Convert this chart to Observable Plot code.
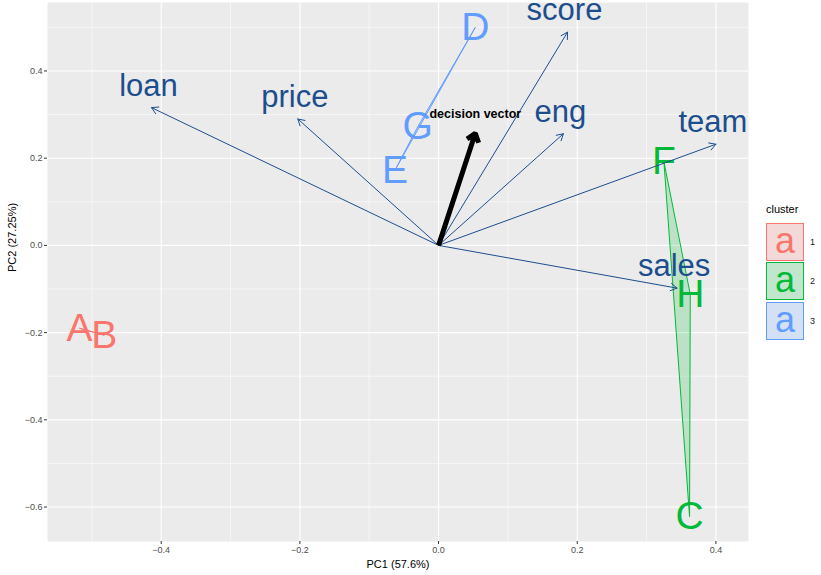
<!DOCTYPE html>
<html>
<head>
<meta charset="utf-8">
<script src="https://cdn.jsdelivr.net/npm/d3@7"></script>
<script src="https://cdn.jsdelivr.net/npm/@observablehq/plot@0.6"></script>
<style>
  body { margin: 0; background: #ffffff; font-family: "Liberation Sans", Arial, Helvetica, sans-serif; }
  #wrap { position: relative; width: 821px; height: 575px; }
  #legend { position: absolute; left: 766px; top: 203px; color: #000; }
  #legend .title { font-size: 11px; height: 19px; line-height: 13px; }
  #legend .row { display: flex; align-items: center; height: 39.5px; }
  #legend .key { position: relative; width: 38px; height: 38px; box-sizing: border-box; background: #f2f2f2; }
  #legend .key .tint { position: absolute; inset: 0; }
  #legend .key span { position: absolute; left: 0; right: 0; top: -2px; height: 38px; text-align: center; font-size: 36px; line-height: 38px; }
  #legend .lab { font-size: 9px; margin-left: 6px; color: #1a1a1a; }
</style>
</head>
<body>
<div id="wrap"></div>
<script>
// Individuals (scores on PC1 / PC2) and their cluster
const names    = ["A", "B", "C", "D", "E", "F", "G", "H"];
const pc1      = [-0.518, -0.482, 0.362, 0.053, -0.063, 0.325, -0.030, 0.363];
const pc2      = [-0.190, -0.206, -0.622, 0.500, 0.172, 0.192, 0.272, -0.112];
const clusters = ["1", "1", "2", "3", "3", "2", "3", "2"];

// Variable loadings
const variables = ["loan", "price", "score", "eng", "team", "sales"];
const loadPC1   = [-0.414, -0.203, 0.186, 0.180, 0.400, 0.344];
const loadPC2   = [0.316, 0.290, 0.489, 0.256, 0.232, -0.098];

// Decision vector
const decisionLabel = ["decision vector"];
const decisionPC1 = [0.053];
const decisionPC2 = [0.257];

// Axis ticks and titles
const majorTicksX = [-0.4, -0.2, 0.0, 0.2, 0.4];
const minorTicksX = [-0.5, -0.3, -0.1, 0.1, 0.3];
const majorTicksY = [-0.6, -0.4, -0.2, 0.0, 0.2, 0.4];
const minorTicksY = [-0.5, -0.3, -0.1, 0.1, 0.3, 0.5];
const xTitle = "PC1 (57.6%)";
const yTitle = "PC2 (27.25%)";

const clusterLevels = ["1", "2", "3"];
const clusterColors = ["#F8766D", "#00BA38", "#619CFF"];
const varColor = "#1C4E8E";
const font = "'Liberation Sans', Arial, Helvetica, sans-serif";

const inds = names.map((n, i) => ({name: n, pc1: pc1[i], pc2: pc2[i], cluster: clusters[i]}));
const vars = variables.map((v, i) => ({name: v, pc1: loadPC1[i], pc2: loadPC2[i]}));
const decision = decisionLabel.map((d, i) => ({name: d, pc1: decisionPC1[i], pc2: decisionPC2[i]}));

const chart = Plot.plot({
  width: 821,
  height: 575,
  marginLeft: 47,
  marginRight: 73,
  marginTop: 2,
  marginBottom: 34,
  style: {fontFamily: font, background: "#ffffff"},
  x: {domain: [-0.564, 0.447]},
  y: {domain: [-0.679, 0.557]},
  color: {type: "ordinal", domain: clusterLevels, range: clusterColors},
  marks: [
    Plot.frame({fill: "#EBEBEB", stroke: null}),
    Plot.gridX(minorTicksX, {stroke: "#ffffff", strokeOpacity: 1, strokeWidth: 0.55}),
    Plot.gridY(minorTicksY, {stroke: "#ffffff", strokeOpacity: 1, strokeWidth: 0.55}),
    Plot.gridX(majorTicksX, {stroke: "#ffffff", strokeOpacity: 1, strokeWidth: 1.1}),
    Plot.gridY(majorTicksY, {stroke: "#ffffff", strokeOpacity: 1, strokeWidth: 1.1}),
    Plot.axisX(majorTicksX, {tickFormat: d3.format(".1f"), tickSize: 3, tickPadding: 2, fontSize: 9, color: "#4D4D4D", stroke: "#333333", label: null}),
    Plot.axisY(majorTicksY, {tickFormat: d3.format(".1f"), tickSize: 3, tickPadding: 2, fontSize: 9, color: "#4D4D4D", stroke: "#333333", label: null}),
    Plot.text([xTitle], {frameAnchor: "bottom", dy: 23, fontSize: 11, fill: "#000", lineAnchor: "middle"}),
    Plot.text([yTitle], {frameAnchor: "left", dx: -35, rotate: -90, fontSize: 11, fill: "#000", lineAnchor: "middle"}),
    // individuals
    Plot.text(inds, {x: "pc1", y: "pc2", text: "name", fill: "cluster", fontSize: 39, lineAnchor: "middle"}),
    Plot.hull(inds, {x: "pc1", y: "pc2", z: "cluster", fill: "cluster", stroke: "cluster", fillOpacity: 0.2, strokeWidth: 1}),
    // variables
    Plot.arrow(vars, {x1: () => 0, y1: () => 0, x2: "pc1", y2: "pc2", stroke: varColor, strokeWidth: 1, headLength: 11, headAngle: 60}),
    Plot.text(vars, {x: "pc1", y: "pc2", text: "name", fill: varColor, fontSize: 31, dx: -3, dy: -22, lineAnchor: "middle"}),
    // decision vector
    Plot.arrow(decision, {x1: () => 0, y1: () => 0, x2: "pc1", y2: "pc2", stroke: "#000", strokeWidth: 5, headLength: 3, headAngle: 75, strokeLinecap: "butt"}),
    Plot.text(decision, {x: "pc1", y: "pc2", text: "name", fill: "#000", fontSize: 12.5, fontWeight: "bold", dy: -19, lineAnchor: "middle"})
  ]
});

const wrap = document.getElementById("wrap");
wrap.appendChild(chart);

// Cluster legend
const legend = document.createElement("div");
legend.id = "legend";
const title = document.createElement("div");
title.className = "title";
title.textContent = "cluster";
legend.appendChild(title);
clusterLevels.forEach((lvl, i) => {
  const row = document.createElement("div");
  row.className = "row";
  const key = document.createElement("div");
  key.className = "key";
  key.style.border = `1px solid ${clusterColors[i]}`;
  const tint = document.createElement("div");
  tint.className = "tint";
  tint.style.background = clusterColors[i];
  tint.style.opacity = 0.2;
  key.appendChild(tint);
  const glyph = document.createElement("span");
  glyph.textContent = "a";
  glyph.style.color = clusterColors[i];
  key.appendChild(glyph);
  const lab = document.createElement("div");
  lab.className = "lab";
  lab.textContent = lvl;
  row.appendChild(key);
  row.appendChild(lab);
  legend.appendChild(row);
});
wrap.appendChild(legend);
</script>
</body>
</html>
